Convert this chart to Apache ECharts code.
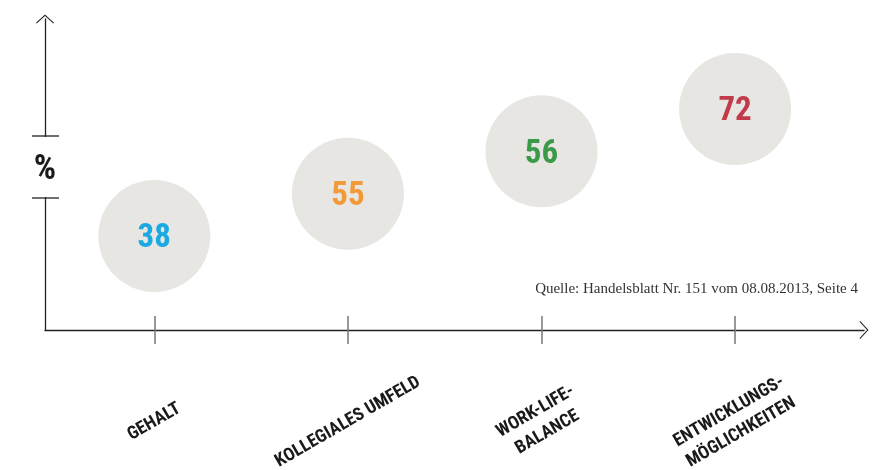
<!DOCTYPE html>
<html>
<head>
<meta charset="utf-8">
<script src="https://cdn.jsdelivr.net/npm/echarts@6/dist/echarts.min.js"></script>
<style>
  html, body { margin: 0; padding: 0; background: #fff; }
  #chart { width: 886px; height: 470px; }
</style>
</head>
<body>
<div id="chart"></div>
<script>
// Daten
const categories = ['GEHALT', 'KOLLEGIALES UMFELD', 'WORK-LIFE-\nBALANCE', 'ENTWICKLUNGS-\nMÖGLICHKEITEN'];
const values = [38, 55, 56, 72];
const valueColors = ['#1ba9e1', '#f39a38', '#3a9a47', '#c23b49'];
const sourceText = 'Quelle: Handelsblatt Nr. 151 vom 08.08.2013, Seite 4';

// Kreise stehen in gleichen Stufen uebereinander -> Rang statt Wert
const ranks = values.map(v => values.filter(w => w < v).length + 1);

const condensed = "'Roboto Condensed', 'Liberation Sans Narrow', 'DejaVu Sans Condensed', sans-serif";
const arrow = 'path://M0,9.2 L10,0 L20,9.2 L19.2,10 L10,1.6 L0.8,10 Z';
const tickStyle = { color: '#777', width: 1.5 };

const chart = echarts.init(document.getElementById('chart'));

chart.setOption({
    animation: false,
    backgroundColor: '#fff',
    title: {
        text: sourceText,
        right: 28,
        top: 282,
        padding: 0,
        textStyle: {
            fontFamily: "'Liberation Serif', 'DejaVu Serif', serif",
            fontWeight: 'normal',
            fontSize: 15,
            color: '#333'
        }
    },
    grid: [
        // Achsenpfeile
        { left: 45, right: 22, top: 19, bottom: 140, outerBoundsMode: 'none' },
        // Kategorien und Kreise
        { left: 57.5, right: 54.1, top: 14, bottom: 140, outerBoundsMode: 'none' }
    ],
    xAxis: [
        {
            gridIndex: 0, type: 'value', min: 0, max: 1,
            axisLine: {
                show: true, onZero: false,
                symbol: ['none', arrow], symbolSize: [18, 10],
                lineStyle: { color: '#222', width: 1.3 }
            },
            axisTick: { show: false }, axisLabel: { show: false }, splitLine: { show: false }
        },
        {
            // Beschriftung + Tick nach unten
            gridIndex: 1, type: 'category', data: categories,
            position: 'bottom', boundaryGap: true,
            axisLine: { show: false, onZero: false },
            axisTick: {
                show: true, alignWithLabel: true, interval: 0, length: 14,
                lineStyle: tickStyle
            },
            axisLabel: {
                interval: 0, rotate: 30, align: 'center', verticalAlign: 'middle',
                margin: 92,
                fontFamily: condensed, fontWeight: 'bold', fontSize: 18, lineHeight: 24,
                color: '#1a1a1a'
            },
            splitLine: { show: false }
        },
        {
            // Tick nach oben
            gridIndex: 1, type: 'category', data: categories,
            position: 'bottom', boundaryGap: true,
            axisLine: { show: false, onZero: false },
            axisTick: {
                show: true, inside: true, alignWithLabel: true, interval: 0, length: 14,
                lineStyle: tickStyle
            },
            axisLabel: { show: false },
            splitLine: { show: false }
        }
    ],
    yAxis: [
        {
            gridIndex: 0, type: 'value', min: 0, max: 1,
            axisLine: {
                show: true, onZero: false,
                symbol: ['none', arrow], symbolSize: [18, 10],
                lineStyle: { color: '#222', width: 1.3 }
            },
            axisTick: { show: false }, axisLabel: { show: false }, splitLine: { show: false }
        },
        {
            gridIndex: 1, type: 'value', min: -1.22, max: 6.245, show: false
        }
    ],
    graphic: [
        // Unterbrechung der y-Achse mit Prozentzeichen
        { type: 'rect', z: 100, shape: { x: 37, y: 137, width: 16, height: 60 }, style: { fill: '#fff' } },
        { type: 'line', z: 101, shape: { x1: 32, y1: 136, x2: 59, y2: 136 }, style: { stroke: '#222', lineWidth: 1.3 } },
        { type: 'line', z: 101, shape: { x1: 32, y1: 198, x2: 59, y2: 198 }, style: { stroke: '#222', lineWidth: 1.3 } },
        {
            type: 'text', z: 101, x: 45, y: 170,
            style: {
                text: '%', textAlign: 'center', textVerticalAlign: 'middle',
                font: "bold 35px 'Roboto Condensed', 'Liberation Sans Narrow', 'DejaVu Sans Condensed', sans-serif",
                fill: '#1a1a1a'
            }
        }
    ],
    series: [{
        type: 'scatter',
        xAxisIndex: 1,
        yAxisIndex: 1,
        symbol: 'circle',
        symbolSize: 112,
        itemStyle: { color: '#e8e6e2', opacity: 1 },
        label: {
            show: true,
            position: 'inside',
            offset: [0, 3],
            formatter: p => p.value[2],
            fontFamily: condensed,
            fontWeight: 'bold',
            fontSize: 33
        },
        data: values.map((v, i) => ({
            value: [i, ranks[i], v],
            label: { color: valueColors[i] }
        }))
    }]
});
</script>
</body>
</html>
